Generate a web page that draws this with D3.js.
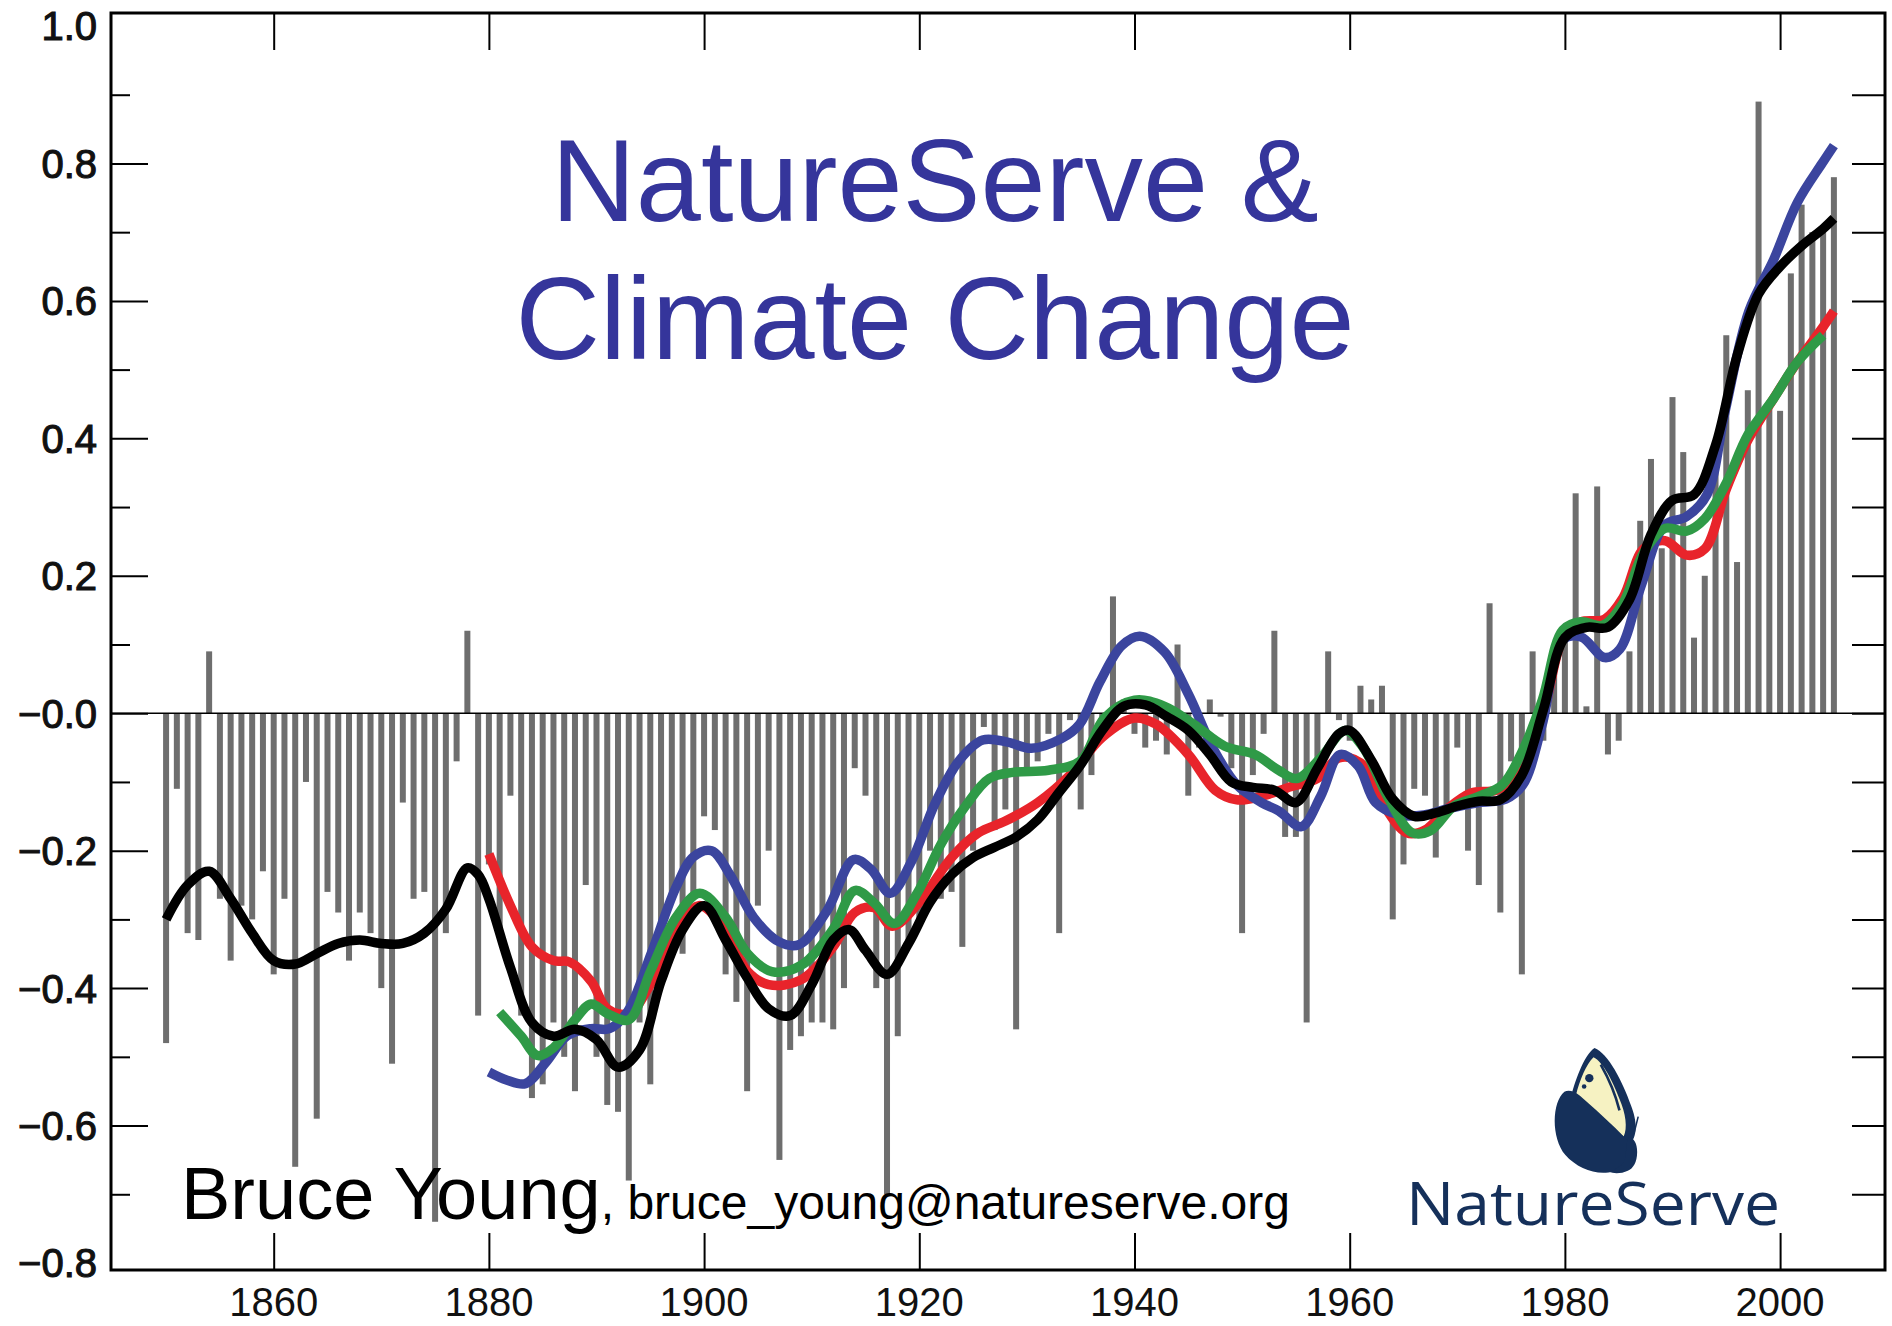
<!DOCTYPE html>
<html><head><meta charset="utf-8">
<script src="https://cdn.jsdelivr.net/npm/d3@7"></script>
<style>
body{margin:0;background:#fff;}
svg{display:block;font-family:"Liberation Sans",Arial,Helvetica,sans-serif;}
</style>
</head><body>
<svg id="chart" width="1892" height="1326"></svg>
<script>
// ---------- DATA ----------
const barYears = d3.range(1850, 2006);
const barValues = [
 -0.48,-0.11,-0.32,-0.33, 0.09,-0.27,-0.36,-0.28,-0.30,-0.23,   // 1850-59
 -0.38,-0.27,-0.66,-0.10,-0.59,-0.26,-0.29,-0.36,-0.29,-0.32,   // 1860-69
 -0.40,-0.51,-0.13,-0.27,-0.26,-0.74,-0.32,-0.07, 0.12,-0.44,   // 1870-79
 -0.22,-0.32,-0.12,-0.44,-0.56,-0.54,-0.45,-0.50,-0.55,-0.25,   // 1880-89
 -0.50,-0.57,-0.58,-0.68,-0.45,-0.54,-0.33,-0.27,-0.35,-0.27,   // 1890-99
 -0.15,-0.17,-0.38,-0.42,-0.55,-0.28,-0.20,-0.65,-0.49,-0.47,   // 1900-09
 -0.45,-0.45,-0.46,-0.40,-0.08,-0.12,-0.40,-0.70,-0.47,-0.34,   // 1910-19
 -0.30,-0.20,-0.27,-0.26,-0.34,-0.20,-0.02,-0.17,-0.14,-0.46,   // 1920-29
 -0.08,-0.07,-0.03,-0.32,-0.01,-0.14,-0.09,-0.02, 0.17, 0.02,   // 1930-39
 -0.03,-0.05,-0.04,-0.06, 0.10,-0.12,-0.05, 0.02,-0.005,-0.08,  // 1940-49
 -0.32,-0.09,-0.03, 0.12,-0.18,-0.18,-0.45,-0.07, 0.09,-0.01,   // 1950-59
 -0.04, 0.04, 0.02, 0.04,-0.30,-0.22,-0.11,-0.12,-0.21,-0.14,   // 1960-69
 -0.05,-0.20,-0.25, 0.16,-0.29,-0.07,-0.38, 0.09,-0.04, 0.06,   // 1970-79
  0.12, 0.32, 0.01, 0.33,-0.06,-0.04, 0.09, 0.28, 0.37, 0.24,   // 1980-89
  0.46, 0.38, 0.11, 0.20, 0.38, 0.55, 0.22, 0.47, 0.89, 0.45,   // 1990-99
  0.44, 0.64, 0.74, 0.70, 0.70, 0.78                            // 2000-05
];

const blackYears  = [1850,1852,1854,1856,1858,1860,1862,1864,1866,1868,1870,1872,1874,1876,1878,1879,1880,1882,1884,1886,1888,1890,1892,1894,1896,1898,1900,1902,1904,1906,1908,1910,1912,1913.5,1915,1917,1919,1921,1923,1925,1927,1929,1931,1933,1935,1937,1939,1941,1943,1945,1947,1949,1951,1953,1955,1957,1959,1960,1962,1964,1966,1968,1970,1972,1974,1976,1978,1980,1982,1984,1986,1988,1990,1992,1994,1996,1998,2000,2002,2004,2005];
const blackValues = [-0.30,-0.25,-0.23,-0.27,-0.32,-0.36,-0.365,-0.35,-0.335,-0.33,-0.335,-0.335,-0.32,-0.285,-0.225,-0.235,-0.27,-0.37,-0.45,-0.47,-0.46,-0.475,-0.515,-0.49,-0.39,-0.315,-0.28,-0.33,-0.385,-0.43,-0.44,-0.395,-0.33,-0.315,-0.345,-0.38,-0.335,-0.275,-0.235,-0.21,-0.195,-0.18,-0.155,-0.115,-0.075,-0.025,0.01,0.012,-0.005,-0.025,-0.06,-0.10,-0.108,-0.112,-0.13,-0.08,-0.03,-0.025,-0.068,-0.125,-0.15,-0.145,-0.135,-0.128,-0.126,-0.09,0.005,0.11,0.125,0.125,0.165,0.26,0.31,0.318,0.39,0.52,0.61,0.65,0.68,0.705,0.72];

const redYears  = [1880,1882,1884,1886,1887.5,1889.5,1891,1893,1895,1897,1899.5,1902,1904,1906,1909,1912,1914,1915.8,1917.5,1920,1923,1925.5,1928,1931,1934,1937,1940,1942,1945,1947.5,1949.5,1952,1954.5,1957,1959,1961,1963,1965.3,1967,1969,1971.3,1973.6,1976,1978,1980,1981.5,1983.7,1985.4,1987.3,1989.3,1991.3,1993,1995,1997,1999.4,2001.6,2003.9,2005];
const redValues = [-0.205,-0.28,-0.34,-0.36,-0.362,-0.39,-0.43,-0.437,-0.395,-0.33,-0.28,-0.315,-0.375,-0.395,-0.388,-0.34,-0.29,-0.283,-0.31,-0.275,-0.21,-0.174,-0.157,-0.13,-0.09,-0.035,-0.007,-0.016,-0.06,-0.112,-0.126,-0.12,-0.107,-0.095,-0.065,-0.072,-0.13,-0.174,-0.17,-0.14,-0.116,-0.112,-0.086,0.0,0.116,0.133,0.137,0.168,0.239,0.251,0.23,0.239,0.326,0.397,0.458,0.511,0.56,0.585];

const greenYears  = [1881,1883,1884.5,1886,1888,1889.5,1891,1893,1895,1897.4,1899.6,1902,1904,1906.3,1909,1912,1914,1915.8,1917.7,1919.8,1922,1924.3,1926.5,1928.7,1932,1935,1937.2,1940,1942.8,1945.5,1948.4,1951.2,1953.4,1955.1,1957.3,1959.6,1961.3,1963.5,1965.8,1967.5,1969.7,1972,1974.2,1975.9,1977.9,1979.8,1981.5,1983.5,1985.4,1987.3,1989.3,1991.3,1993,1995,1997,1999.4,2001.6,2004];
const greenValues = [-0.435,-0.47,-0.498,-0.487,-0.446,-0.423,-0.437,-0.446,-0.376,-0.297,-0.262,-0.297,-0.349,-0.376,-0.367,-0.314,-0.258,-0.276,-0.306,-0.262,-0.191,-0.135,-0.095,-0.086,-0.083,-0.069,-0.007,0.019,0.01,-0.016,-0.048,-0.06,-0.083,-0.095,-0.065,-0.025,-0.051,-0.121,-0.174,-0.171,-0.135,-0.121,-0.104,-0.06,0.019,0.121,0.133,0.128,0.16,0.233,0.269,0.265,0.283,0.335,0.405,0.458,0.511,0.55];

const blueYears  = [1880,1881.7,1883.4,1885.3,1887.3,1889.5,1891.2,1892.9,1895.1,1897.4,1899,1900.7,1902.4,1904.6,1906.9,1908.8,1911.4,1913.9,1915.5,1917.3,1919.2,1921.5,1923.7,1925.9,1928.2,1930.4,1933.2,1934.9,1936.8,1938.8,1940.5,1942.8,1945,1947.3,1949.5,1951.8,1953.4,1955.5,1957.3,1959.1,1960.8,1962.4,1964.6,1966.9,1969.1,1972,1974.5,1976.1,1977.9,1979.8,1981.5,1983.7,1985.1,1987.1,1989.3,1991.3,1993.2,1994.9,1997.1,1999.4,2001.6,2003.9,2005];
const blueValues = [-0.522,-0.534,-0.539,-0.508,-0.469,-0.459,-0.459,-0.434,-0.349,-0.253,-0.209,-0.2,-0.235,-0.297,-0.332,-0.337,-0.288,-0.213,-0.227,-0.262,-0.218,-0.13,-0.069,-0.039,-0.042,-0.051,-0.037,-0.016,0.046,0.098,0.112,0.089,0.028,-0.051,-0.104,-0.13,-0.142,-0.165,-0.121,-0.06,-0.077,-0.13,-0.148,-0.148,-0.139,-0.13,-0.125,-0.104,-0.016,0.107,0.111,0.081,0.093,0.186,0.274,0.286,0.318,0.44,0.585,0.66,0.743,0.8,0.826];

const xTickValues = [1860,1880,1900,1920,1940,1960,1980,2000];
const yTickValues = [-0.8,-0.6,-0.4,-0.2,0.0,0.2,0.4,0.6,0.8,1.0];
const yTickLabels = ["\u22120.8","\u22120.6","\u22120.4","\u22120.2","\u22120.0","0.2","0.4","0.6","0.8","1.0"];
const yMinorValues = [-0.7,-0.5,-0.3,-0.1,0.1,0.3,0.5,0.7,0.9];

const titleLines = ["NatureServe &", "Climate Change"];
const authorName = "Bruce Young";
const authorEmail = ", bruce_young@natureserve.org";
const logoText = "NatureServe";

// ---------- LAYOUT ----------
const W = 1892, H = 1326;
const frame = {left: 111, right: 1885, top: 13, bottom: 1270};
const svg = d3.select("#chart");
svg.append("rect").attr("width", W).attr("height", H).attr("fill", "#fff");

const x = d3.scaleLinear().domain([1844.88, 2009.75]).range([frame.left, frame.right]);
const y = d3.scaleLinear().domain([-0.8, 1.0]).range([1263, 26]);

// bars
const barW = 6;
svg.append("g").selectAll("rect").data(barYears.map((yr, i) => ({yr, v: barValues[i]})))
  .join("rect")
  .attr("x", d => x(d.yr) - barW / 2)
  .attr("width", barW)
  .attr("y", d => Math.min(y(d.v), y(0)))
  .attr("height", d => Math.abs(y(d.v) - y(0)))
  .attr("fill", "#6e6e6e");

// zero line
svg.append("line").attr("x1", frame.left).attr("x2", frame.right)
  .attr("y1", y(0)).attr("y2", y(0)).attr("stroke", "#000").attr("stroke-width", 1.6);

// smoothed lines
const lineGen = d3.line().x(d => x(d[0])).y(d => y(d[1])).curve(d3.curveCatmullRom.alpha(0.5));
const series = [
  {years: redYears, values: redValues, color: "#e8242b", w: 9.5},
  {years: blueYears, values: blueValues, color: "#3b459e", w: 9.5},
  {years: greenYears, values: greenValues, color: "#2f9a47", w: 9.5},
  {years: blackYears, values: blackValues, color: "#000000", w: 9.5}
];
series.forEach(s => {
  svg.append("path").datum(s.years.map((yr, i) => [yr, s.values[i]]))
    .attr("d", lineGen).attr("fill", "none").attr("stroke", s.color)
    .attr("stroke-width", s.w).attr("stroke-linejoin", "round").attr("stroke-linecap", "butt");
});

// axes: left ticks
const tickStyle = g => { g.select(".domain").remove(); g.selectAll("line").attr("stroke", "#000").attr("stroke-width", 2); };
svg.append("g").attr("transform", `translate(${frame.left},0)`)
  .call(d3.axisLeft(y).tickValues(yTickValues.filter(v => v > -0.8 && v < 1.0)).tickSize(-37).tickFormat(""))
  .call(tickStyle);
svg.append("g").attr("transform", `translate(${frame.left},0)`)
  .call(d3.axisLeft(y).tickValues(yMinorValues).tickSize(-19).tickFormat(""))
  .call(tickStyle);
// right ticks
svg.append("g").attr("transform", `translate(${frame.right},0)`)
  .call(d3.axisRight(y).tickValues(yMinorValues.concat(yTickValues.filter(v => v > -0.8 && v < 1.0))).tickSize(-33).tickFormat(""))
  .call(tickStyle);
// bottom / top ticks
svg.append("g").attr("transform", `translate(0,${frame.bottom})`)
  .call(d3.axisBottom(x).tickValues(xTickValues).tickSize(-37).tickFormat(""))
  .call(tickStyle);
svg.append("g").attr("transform", `translate(0,${frame.top})`)
  .call(d3.axisTop(x).tickValues(xTickValues).tickSize(-37).tickFormat(""))
  .call(tickStyle);

// y labels
svg.append("g").selectAll("text").data(yTickValues).join("text")
  .attr("x", 97).attr("y", d => y(d)).attr("dy", "0.36em")
  .attr("text-anchor", "end").attr("font-size", 40)
  .attr("fill", "#111").attr("stroke", "#111").attr("stroke-width", 1.1)
  .text((d, i) => yTickLabels[i]);
// x labels
svg.append("g").selectAll("text").data(xTickValues).join("text")
  .attr("x", d => x(d)).attr("y", 1316).attr("text-anchor", "middle")
  .attr("font-size", 40).attr("fill", "#111").text(d => d);

// frame
svg.append("rect").attr("x", frame.left).attr("y", frame.top)
  .attr("width", frame.right - frame.left).attr("height", frame.bottom - frame.top)
  .attr("fill", "none").attr("stroke", "#000").attr("stroke-width", 3);

// title
svg.append("g").selectAll("text").data(titleLines).join("text")
  .attr("x", 935).attr("y", (d, i) => 221 + i * 138).attr("text-anchor", "middle")
  .attr("font-size", 117).attr("fill", "#35359b").text(d => d);

// author
const au = svg.append("text").attr("x", 181).attr("y", 1219).attr("fill", "#000");
au.append("tspan").attr("font-size", 74).text(authorName);
au.append("tspan").attr("font-size", 48).text(authorEmail);

// logo
const navy = "#15305a";
const logo = svg.append("g").attr("transform", "translate(1555,1048) scale(1.04)");
logo.append("path").attr("fill", navy)
  .attr("d", "M38,0 C29,6 21,26 15,48 L71,93 C80,86 79,70 73,55 C65,32 51,5 38,0 Z");
logo.append("path").attr("fill", "#f6f2c2")
  .attr("d", "M37,9 C30,16 24,30 20,46 L66,85 C70,77 68,63 62,49 C56,33 46,13 37,9 Z");
logo.append("path").attr("fill", "none").attr("stroke", navy).attr("stroke-width", 2.5)
  .attr("d", "M44,16 C52,30 58,44 62,60");
logo.append("circle").attr("cx", 33).attr("cy", 29).attr("r", 4).attr("fill", navy);
logo.append("circle").attr("cx", 28).attr("cy", 37).attr("r", 2.2).attr("fill", navy);
logo.append("path").attr("fill", navy)
  .attr("d", "M9,42 C-3,52 -4,86 10,103 C24,119 50,126 65,114 C74,107 76,97 72,91 L58,77 L40,60 L24,46 C18,41 13,40 9,42 Z");
logo.append("path").attr("fill", navy)
  .attr("d", "M71,86 C76,86 79,92 79,100 C79,110 75,116 70,118 C64,121 56,121 52,119 C58,117 64,114 67,108 C69,100 68,90 71,86 Z");
logo.append("path").attr("fill", "none").attr("stroke", navy).attr("stroke-width", 1.5)
  .attr("d", "M76,82 L80,66");
svg.append("text").attr("x", 1406).attr("y", 1225).attr("font-family", "'Open Sans','Noto Sans',sans-serif")
  .attr("font-size", 60).attr("fill", navy).attr("textLength", 374).attr("lengthAdjust", "spacingAndGlyphs")
  .text(logoText);
</script>
</body></html>
